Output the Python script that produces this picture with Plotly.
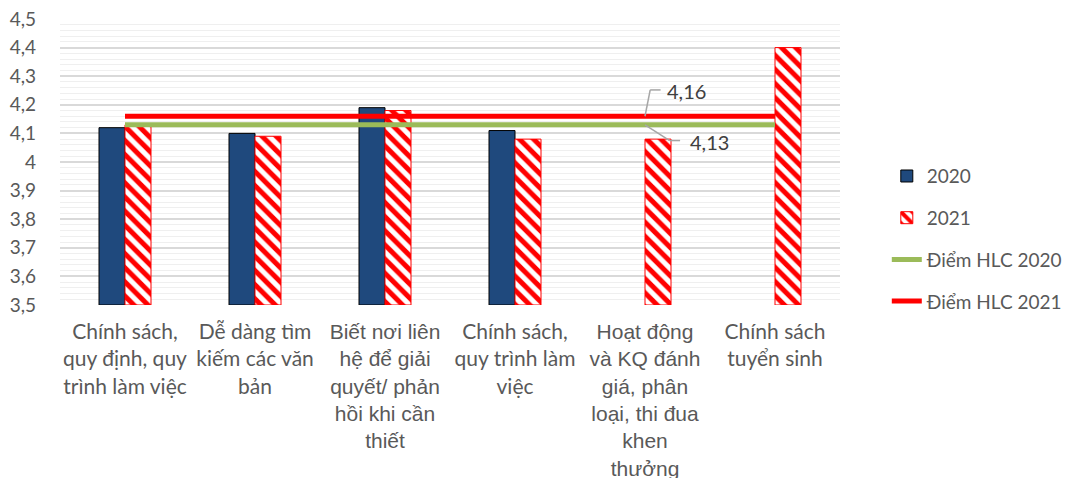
import plotly.graph_objects as go

ARIAL = '<span style="font-family:Liberation Sans, Arial; font-size:21px">{}</span>'

categories = [
    "Chính sách,<br>quy định, quy<br>trình làm việc",
    "Dễ dàng tìm<br>kiếm các văn<br>bản",
    ARIAL.format("Biết nơi liên<br>hệ để giải<br>quyết/ phản<br>hồi khi cần<br>thiết"),
    "Chính sách,<br>quy trình làm<br>việc",
    ARIAL.format("Hoạt động<br>và KQ đánh<br>giá, phân<br>loại, thi đua<br>khen<br>thưởng"),
    "Chính sách<br>tuyển sinh",
]
values_2020 = [4.12, 4.10, 4.19, 4.11, None, None]
values_2021 = [4.13, 4.09, 4.18, 4.08, 4.08, 4.40]
hlc_2020 = [4.13, 4.13, 4.13, 4.13, 4.13, 4.13]
hlc_2021 = [4.16, 4.16, 4.16, 4.16, 4.16, 4.16]
BASE = 3.5

y_ticks = [3.5, 3.6, 3.7, 3.8, 3.9, 4.0, 4.1, 4.2, 4.3, 4.4, 4.5]
y_ticktext = ["3,5", "3,6", "3,7", "3,8", "3,9", "4", "4,1", "4,2", "4,3", "4,4", "4,5"]

TEXT = "#595959"
FONT = "Lato"

fig = go.Figure()
fig.add_trace(go.Bar(
    x=categories, y=[None if v is None else v - BASE for v in values_2020],
    base=BASE, name="2020", legendgroup="a",
    marker=dict(color="#1F497D", line=dict(color="#000000", width=1)),
))
fig.add_trace(go.Bar(
    x=categories, y=[None if v is None else v - BASE for v in values_2021],
    base=BASE, name="2021", legendgroup="b",
    marker=dict(color="#FFFFFF", line=dict(color="#FF0000", width=1),
                pattern=dict(shape="\\", fgcolor="#FF0000", bgcolor="#FFFFFF",
                             size=10, solidity=0.5, fillmode="replace")),
))
fig.add_trace(go.Scatter(
    x=categories, y=hlc_2020, name="Điểm HLC 2020", legendgroup="c",
    mode="lines", line=dict(color="#9BBB59", width=5),
))
fig.add_trace(go.Scatter(
    x=categories, y=hlc_2021, name="Điểm HLC 2021", legendgroup="d",
    mode="lines", line=dict(color="#FF0000", width=5),
))

# leader lines for labels
leader = dict(color="#A6A6A6", width=1.5)
fig.add_shape(type="line", xref="x", yref="y", x0=4.0, y0=4.16, x1=4.04, y1=4.252, line=leader)
fig.add_shape(type="line", xref="x", yref="y", x0=4.04, y0=4.252, x1=4.12, y1=4.252, line=leader)
fig.add_shape(type="line", xref="x", yref="y", x0=4.0, y0=4.13, x1=4.19, y1=4.075, line=leader)
fig.add_shape(type="line", xref="x", yref="y", x0=4.19, y0=4.075, x1=4.27, y1=4.075, line=leader)
fig.add_annotation(x=4.15, y=4.248, xref="x", yref="y", text="4,16", showarrow=False,
                   xanchor="left", yanchor="middle", font=dict(family=FONT, size=20, color="#404040"))
fig.add_annotation(x=4.33, y=4.071, xref="x", yref="y", text="4,13", showarrow=False,
                   xanchor="left", yanchor="middle", font=dict(family=FONT, size=20, color="#404040"))

fig.update_layout(
    width=1073, height=470,
    margin=dict(l=52, r=241, t=11, b=173, autoexpand=False),
    paper_bgcolor="white", plot_bgcolor="white",
    barmode="group", bargap=0.6, bargroupgap=0,
    font=dict(family=FONT, size=20, color=TEXT),
    legend=dict(x=1.06, y=0.517, xanchor="left", yanchor="top",
                traceorder="grouped", tracegroupgap=14,
                font=dict(family=FONT, size=19, color=TEXT)),
    showlegend=True,
)
fig.update_xaxes(automargin=False, showgrid=False, showline=False, ticks="",
                 ticklabelstandoff=12,
                 tickfont=dict(family=FONT, size=21, color=TEXT), tickangle=0)
fig.update_yaxes(automargin=False, range=[3.5, 4.5], tickvals=y_ticks, ticktext=y_ticktext,
                 showgrid=True, gridcolor="#D9D9D9", gridwidth=1.5, zeroline=False, showline=False,
                 ticks="", ticklabelstandoff=23, ticklabeloverflow="allow",
                 tickfont=dict(family=FONT, size=19, color=TEXT),
                 minor=dict(dtick=0.02, showgrid=True, gridcolor="#EFEFEF", gridwidth=1))

fig.write_html("out.html")
